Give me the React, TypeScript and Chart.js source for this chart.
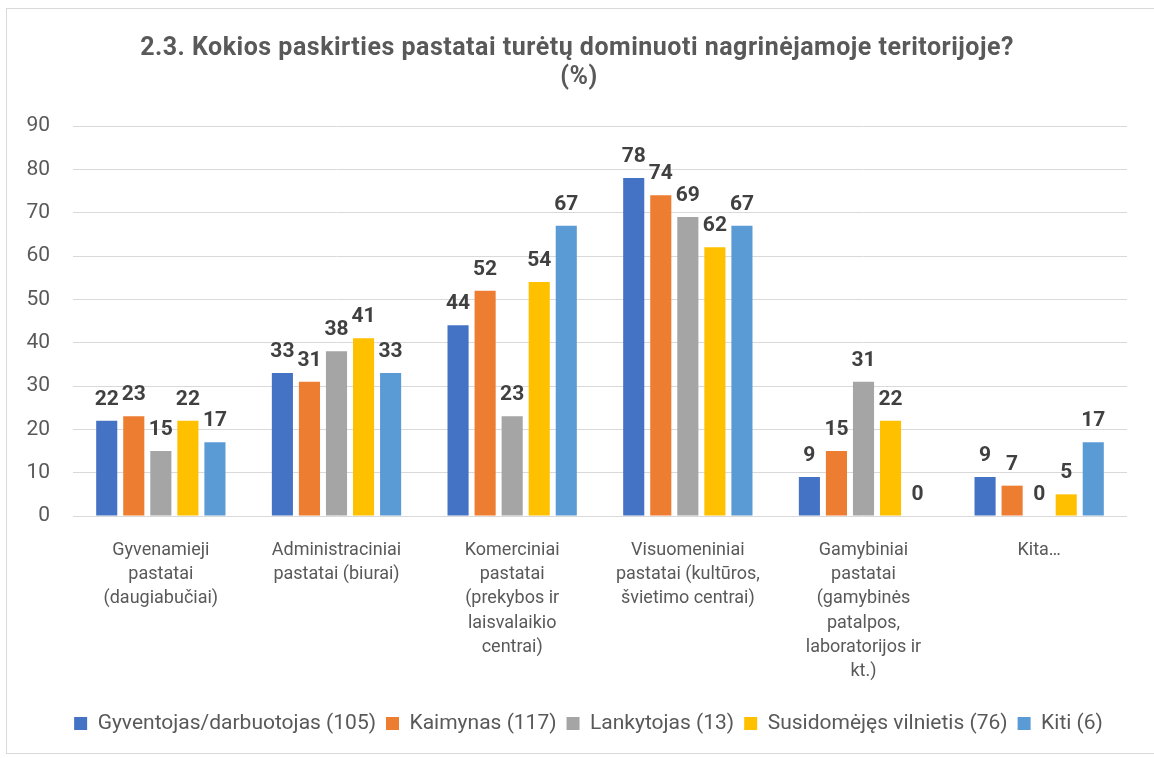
import React, { useEffect, useRef } from "react";
import { Chart, registerables } from "chart.js";

Chart.register(...registerables);

const titleLines = [
  "2.3. Kokios paskirties pastatai turėtų dominuoti nagrinėjamoje teritorijoje?",
  "(%)",
];

const categories: string[][] = [
  ["Gyvenamieji", "pastatai", "(daugiabučiai)"],
  ["Administraciniai", "pastatai (biurai)"],
  ["Komerciniai", "pastatai", "(prekybos ir", "laisvalaikio", "centrai)"],
  ["Visuomeniniai", "pastatai (kultūros,", "švietimo centrai)"],
  ["Gamybiniai", "pastatai", "(gamybinės", "patalpos,", "laboratorijos ir", "kt.)"],
  ["Kita…"],
];

const seriesNames = [
  "Gyventojas/darbuotojas (105)",
  "Kaimynas (117)",
  "Lankytojas (13)",
  "Susidomėjęs vilnietis (76)",
  "Kiti (6)",
];

const gyventojas = [22, 33, 44, 78, 9, 9];
const kaimynas = [23, 31, 52, 74, 15, 7];
const lankytojas = [15, 38, 23, 69, 31, 0];
const susidomejes = [22, 41, 54, 62, 22, 5];
const kiti = [17, 33, 67, 67, 0, 17];

const colors = ["#4472C4", "#ED7D31", "#A5A5A5", "#FFC000", "#5B9BD5"];

const FONT = "Roboto";

const titlePlugin = {
  id: "customTitle",
  afterDraw(chart: any) {
    const ctx = chart.ctx;
    ctx.save();
    ctx.font = `bold 25px ${FONT}`;
    ctx.fillStyle = "#595959";
    ctx.textAlign = "center";
    ctx.textBaseline = "alphabetic";
    try {
      (ctx as any).letterSpacing = "0.5px";
    } catch (e) {}
    const cx = chart.width / 2;
    ctx.fillText(titleLines[0], cx, 55);
    ctx.fillText(titleLines[1], cx + 2, 84);
    ctx.restore();
  },
};

const shiftLegendPlugin = {
  id: "shiftLegend",
  afterLayout(chart: any) {
    const l = chart.legend;
    if (l) {
      l.left += 25;
      l.right += 25;
    }
  },
};

const dataLabelPlugin = {
  id: "dataLabels",
  afterDatasetsDraw(chart: any) {
    const ctx = chart.ctx;
    ctx.save();
    ctx.font = `bold 21px ${FONT}`;
    ctx.fillStyle = "#404040";
    ctx.textAlign = "center";
    ctx.textBaseline = "alphabetic";
    chart.data.datasets.forEach((ds: any, i: number) => {
      const meta = chart.getDatasetMeta(i);
      meta.data.forEach((bar: any, j: number) => {
        ctx.fillText(String(ds.data[j]), bar.x, bar.y - 16);
      });
    });
    ctx.restore();
  },
};

export default function App() {
  const ref = useRef<HTMLCanvasElement>(null);
  useEffect(() => {
    document.body.style.margin = "0";
    const data = [gyventojas, kaimynas, lankytojas, susidomejes, kiti];
    const chart = new Chart(ref.current!, {
      type: "bar",
      data: {
        labels: categories,
        datasets: data.map((d, i) => ({
          label: seriesNames[i],
          data: d,
          backgroundColor: colors[i],
          categoryPercentage: 0.77,
          barPercentage: 0.78,
        })),
      },
      plugins: [dataLabelPlugin, titlePlugin, shiftLegendPlugin],
      options: {
        animation: false,
        responsive: false,
        layout: { padding: { left: 0, right: 27, top: 126, bottom: 14 } },
        plugins: {
          title: { display: false },
          legend: {
            position: "bottom",
            labels: {
              color: "#595959",
              font: { family: FONT, size: 21 },
              boxWidth: 13,
              boxHeight: 13,
              padding: 10,
            },
          },
          tooltip: { enabled: false },
        },
        scales: {
          x: {
            grid: { display: false },
            border: { display: false },
            ticks: {
              color: "#595959",
              font: { family: FONT, size: 18, lineHeight: 1.35 },
              maxRotation: 0,
              autoSkip: false,
              padding: 14,
            },
            afterFit: (s: any) => {
              s.height = 187;
            },
          },
          y: {
            min: 0,
            max: 90,
            ticks: {
              stepSize: 10,
              color: "#595959",
              font: { family: FONT, size: 21 },
              padding: 23,
            },
            grid: { color: "#d9d9d9", drawTicks: false },
            border: { display: false },
            afterFit: (s: any) => {
              s.width = 73;
            },
          },
        },
      },
    });
    return () => chart.destroy();
  }, []);
  return (
    <div style={{ position: "relative", width: 1154, height: 758, background: "#fff" }}>
      <canvas ref={ref} width={1154} height={758} />
      <div
        style={{
          position: "absolute",
          left: 6,
          top: 8,
          width: 1160,
          height: 744,
          border: "1px solid #d9d9d9",
          pointerEvents: "none",
        }}
      />
    </div>
  );
}
